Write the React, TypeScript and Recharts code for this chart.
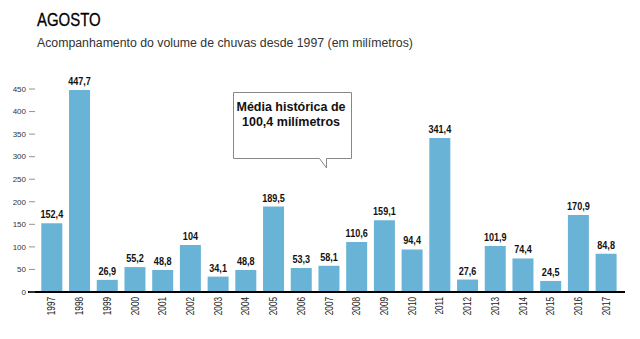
import React from 'react'
import { BarChart, Bar, XAxis, YAxis, LabelList } from 'recharts'

const years = [
  '1997', '1998', '1999', '2000', '2001', '2002', '2003', '2004', '2005', '2006', '2007',
  '2008', '2009', '2010', '2011', '2012', '2013', '2014', '2015', '2016', '2017',
]
const rainfall = [
  152.4, 447.7, 26.9, 55.2, 48.8, 104, 34.1, 48.8, 189.5, 53.3, 58.1,
  110.6, 159.1, 94.4, 341.4, 27.6, 101.9, 74.4, 24.5, 170.9, 84.8,
]
const yTicks = [0, 50, 100, 150, 200, 250, 300, 350, 400, 450]
const calloutLines = ['Média histórica de', '100,4 milímetros']

const data = years.map((year, i) => ({ year, value: rainfall[i] }))

const BAR = '#69b4d6'
const SANS = '"Liberation Sans", Arial, sans-serif'

const fmt = (v: number) => String(v).replace('.', ',')

// y ticks: number + short dash inside the plot
const YTick = (props: any) => {
  const { x, y, payload } = props
  return (
    <g>
      <text x={x - 2} y={y} dy="0.35em" textAnchor="end" fontSize={8} fill="#333" fontFamily={SANS}>
        {payload.value}
      </text>
      <line x1={x + 1} x2={x + 7} y1={y} y2={y} stroke="#777" strokeWidth={0.8} />
    </g>
  )
}

// rotated, condensed year labels
const YearTick = (props: any) => {
  const { x, y, payload } = props
  return (
    <text
      x={0}
      y={0}
      dy="0.35em"
      textAnchor="end"
      transform={`translate(${x}, ${y + 5}) rotate(-90) scale(0.82, 1)`}
      fontSize={10}
      fill="#222"
      fontFamily={SANS}
    >
      {payload.value}
    </text>
  )
}

const ValueLabel = (props: any) => {
  const { x, y, width, value } = props
  const cx = x + width / 2
  return (
    <text
      x={0}
      y={0}
      textAnchor="middle"
      transform={`translate(${cx}, ${y - 5}) scale(0.84, 1)`}
      fontSize={10.8}
      fontWeight="bold"
      fill="#111"
      fontFamily={SANS}
    >
      {fmt(value)}
    </text>
  )
}

const Callout = () => (
  <svg width={640} height={339} style={{ position: 'absolute', left: 0, top: 0, pointerEvents: 'none' }}>
    <path
      d="M233.5,92.5 H351.5 V158.5 H326.5 V168 L319.5,158.5 H233.5 Z"
      fill="#fff"
      stroke="#888"
      strokeWidth={1}
    />
    {calloutLines.map((t, i) => (
      <text
        key={t}
        x={291}
        y={111 + i * 15}
        textAnchor="middle"
        fontSize={12.5}
        fontWeight="bold"
        fill="#111"
        fontFamily={SANS}
      >
        {t}
      </text>
    ))}
  </svg>
)

export default function App() {
  return (
    <div style={{ position: 'absolute', left: 0, top: 0, width: 640, height: 339, background: '#fff' }}>
      <div
        style={{
          position: 'absolute',
          left: 37,
          top: 9,
          fontFamily: SANS,
          fontSize: 18,
          color: '#000',
          lineHeight: '22px',
          transform: 'scaleX(0.83)',
          transformOrigin: 'left top',
          WebkitTextStroke: '0.3px #000',
        }}
      >
        AGOSTO
      </div>
      <div
        style={{
          position: 'absolute',
          left: 37,
          top: 35,
          fontFamily: SANS,
          fontSize: 12.3,
          color: '#333',
          lineHeight: '16px',
        }}
      >
        Acompanhamento do volume de chuvas desde 1997 (em milímetros)
      </div>
      <BarChart
        width={640}
        height={339}
        data={data}
        margin={{ top: 89, right: 15, bottom: 7, left: 0 }}
        barCategoryGap="12%"
      >
        <XAxis
          dataKey="year"
          height={40}
          interval={0}
          padding={{ left: 10, right: 5 }}
          axisLine={{ stroke: '#000', strokeWidth: 2 }}
          tickLine={false}
          tickSize={0}
          tickMargin={0}
          tick={<YearTick />}
        />
        <YAxis
          width={28}
          domain={[0, 450]}
          ticks={yTicks}
          interval={0}
          axisLine={false}
          tickLine={false}
          tickSize={0}
          tickMargin={0}
          tick={<YTick />}
        />
        <Bar dataKey="value" fill={BAR} isAnimationActive={false}>
          <LabelList dataKey="value" content={<ValueLabel />} />
        </Bar>
      </BarChart>
      <Callout />
    </div>
  )
}
